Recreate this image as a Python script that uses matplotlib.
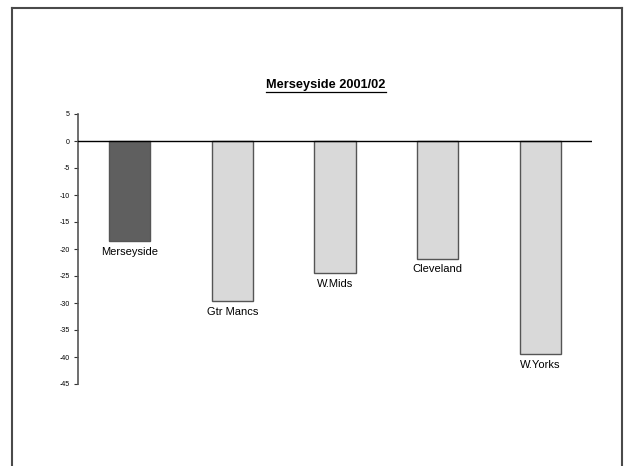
import matplotlib.pyplot as plt
from matplotlib.lines import Line2D

# data
regions = ['Merseyside', 'Gtr Mancs', 'W.Mids', 'Cleveland', 'W.Yorks']
values = [-18.6, -29.7, -24.5, -21.8, -39.5]
bar_colors = ['#5f5f5f', '#d9d9d9', '#d9d9d9', '#d9d9d9', '#d9d9d9']
yticks = list(range(5, -50, -5))

W, H = 627, 466
fig = plt.figure(figsize=(W / 100, H / 100), dpi=100)
plt.rcParams['font.family'] = ['Liberation Sans', 'DejaVu Sans']

# outer frame (open at the bottom)
frame_kw = dict(color='#4a4a4a', lw=1.5, transform=fig.transFigure)
fig.add_artist(Line2D([12 / W, 12 / W], [0, 1 - 8 / H], **frame_kw))
fig.add_artist(Line2D([12 / W, 622 / W], [1 - 8 / H, 1 - 8 / H], **frame_kw))
fig.add_artist(Line2D([622 / W, 622 / W], [0, 1 - 8 / H], **frame_kw))

ax = fig.add_axes([78 / W, 82 / H, 514 / W, 270 / H])
x = list(range(len(regions)))
ax.bar(x, values, width=0.4, color=bar_colors, edgecolor='#555555', linewidth=1.0, zorder=2)
ax.axhline(0, color='black', lw=1.0, zorder=3)

for xi, v, name in zip(x, values, regions):
    ax.text(xi, v - 1.0, name, ha='center', va='top', fontsize=8)

ax.set_xlim(-0.5, 4.5)
ax.set_ylim(-45, 5)
ax.set_yticks(yticks)
ax.set_yticklabels([str(t) for t in yticks], fontsize=5)
ax.tick_params(axis='y', length=3, width=0.8, color='#333333', pad=3)
ax.set_xticks([])
for s in ['top', 'right', 'bottom']:
    ax.spines[s].set_visible(False)
ax.spines['left'].set_color('#555555')
ax.spines['left'].set_linewidth(1.2)

# title with underline
title = fig.text(326 / W, 1 - 85 / H, 'Merseyside 2001/02', ha='center', va='center',
                 fontsize=9.2, fontweight='bold')
fig.canvas.draw()
bb = title.get_window_extent().transformed(fig.transFigure.inverted())
fig.add_artist(Line2D([bb.x0, bb.x1], [bb.y0 - 1 / H, bb.y0 - 1 / H], color='black', lw=0.9,
                      transform=fig.transFigure))

fig.savefig('out.png', dpi=100)
